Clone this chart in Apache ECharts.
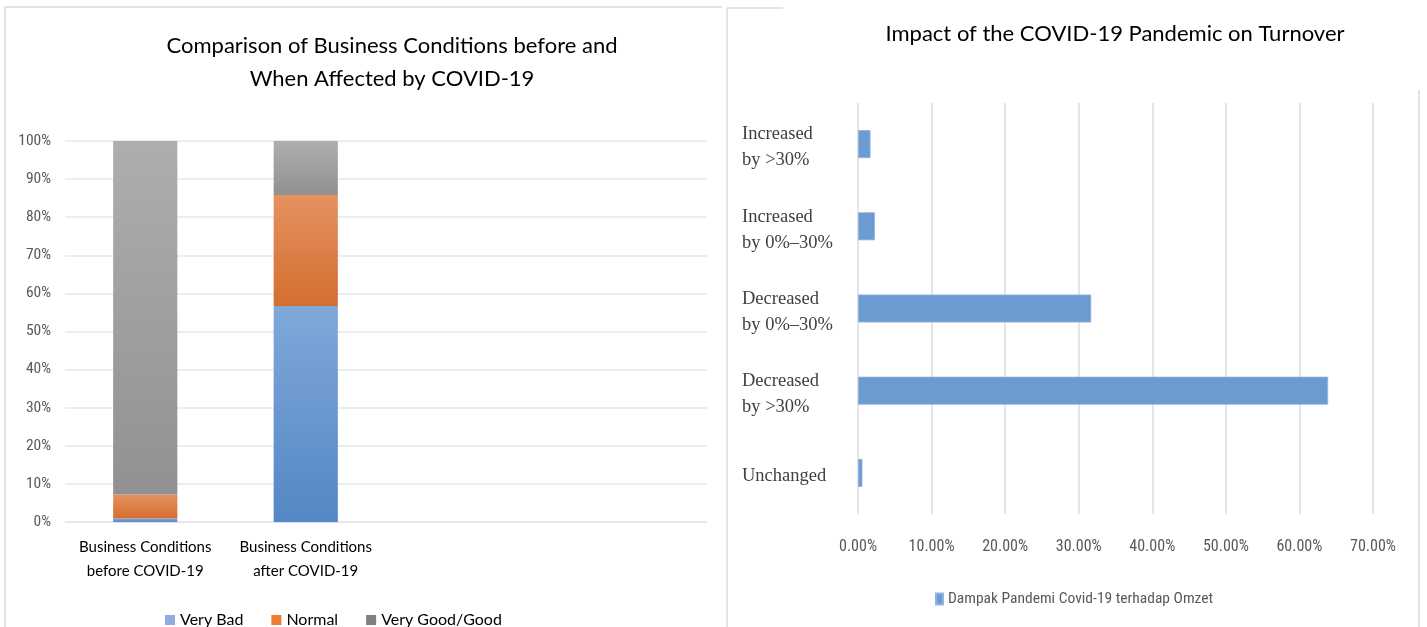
<!DOCTYPE html>
<html>
<head>
<meta charset="utf-8">
<title>COVID-19 business conditions and turnover</title>
<script src="https://cdn.jsdelivr.net/npm/echarts@6/dist/echarts.min.js"></script>
<style>
  html, body { margin: 0; padding: 0; background: #ffffff; }
  #chart { width: 1427px; height: 627px; }
</style>
</head>
<body>
<div id="chart"></div>
<script>
// Left panel: stacked shares of business conditions (percent)
const conditionCategories = ['Business Conditions\nbefore COVID-19', 'Business Conditions\nafter COVID-19'];
const veryBad = [0.9, 56.7];
const normal = [6.3, 29.1];
const veryGood = [92.8, 14.2];

// Right panel: turnover impact (percent of respondents)
const turnoverCategories = [
  'Increased\nby >30%',
  'Increased\nby 0%\u201330%',
  'Decreased\nby 0%\u201330%',
  'Decreased\nby >30%',
  'Unchanged'
];
const turnoverValues = [1.7, 2.3, 31.7, 63.9, 0.6];
const turnoverSeriesName = 'Dampak Pandemi Covid-19 terhadap Omzet';

const narrow = "'Liberation Sans Narrow', 'Roboto Condensed', 'Liberation Sans', sans-serif";

function vGrad(top, bottom) {
  return new echarts.graphic.LinearGradient(0, 0, 0, 1, [
    { offset: 0, color: top },
    { offset: 1, color: bottom }
  ]);
}

const chart = echarts.init(document.getElementById('chart'), null, { renderer: 'canvas' });

const frameStyle = { stroke: '#e4e4e4', lineWidth: 2 };

chart.setOption({
  backgroundColor: '#ffffff',
  animation: false,
  title: [
    {
      text: 'Comparison of Business Conditions before and\nWhen Affected by COVID-19',
      left: 387, top: 24, textAlign: 'center',
      textStyle: { fontFamily: 'Lato', fontSize: 22, fontWeight: 'normal', color: '#000000', lineHeight: 33 }
    },
    {
      text: 'Impact of the COVID-19 Pandemic on Turnover',
      left: 1110, top: 18, textAlign: 'center',
      textStyle: { fontFamily: 'Lato', fontSize: 22, fontWeight: 'normal', color: '#000000' }
    }
  ],
  legend: [
    {
      left: 160, top: 607,
      icon: 'rect', itemWidth: 10, itemHeight: 10, itemGap: 28, itemSpacing: 7,
      textStyle: { fontFamily: 'Lato', fontSize: 16, color: '#000000' },
      data: [
        { name: 'Very Bad', itemStyle: { color: '#8eaee0' } },
        { name: 'Normal', itemStyle: { color: '#ed7d31' } },
        { name: 'Very Good/Good', itemStyle: { color: '#808080' } }
      ]
    },
    {
      left: 930, top: 586,
      icon: 'rect', itemWidth: 7, itemHeight: 11, itemGap: 10, itemSpacing: 4,
      textStyle: { fontFamily: narrow, fontSize: 15.5, color: '#595959' },
      data: [{ name: turnoverSeriesName, itemStyle: { color: '#6b9bd0' } }]
    }
  ],
  grid: [
    { left: 65, right: 720, top: 141, bottom: 105, containLabel: false },
    { left: 858, right: 54, top: 103, bottom: 113, containLabel: false }
  ],
  xAxis: [
    {
      type: 'category', gridIndex: 0, data: conditionCategories, max: 3,
      axisLine: { show: true, lineStyle: { color: '#dfe3ea', width: 1 } },
      axisTick: { show: false },
      axisLabel: {
        margin: 13, interval: 0, fontFamily: 'Lato', fontSize: 15, color: '#000000', lineHeight: 24
      }
    },
    {
      type: 'value', gridIndex: 1, min: 0, max: 70, interval: 10,
      axisLine: { show: false }, axisTick: { show: false },
      splitLine: { show: true, lineStyle: { color: '#dcdcdc', width: 1.5 } },
      axisLabel: {
        margin: 25, fontFamily: narrow, fontSize: 16, color: '#595959',
        formatter: v => v.toFixed(2) + '%'
      }
    }
  ],
  yAxis: [
    {
      type: 'value', gridIndex: 0, min: 0, max: 100, interval: 10,
      axisLine: { show: false }, axisTick: { show: false },
      splitLine: { show: true, lineStyle: { color: '#e3e7ee', width: 1.5 } },
      axisLabel: { margin: 14, fontFamily: narrow, fontSize: 15.5, color: '#595959', formatter: '{value}%' }
    },
    {
      type: 'category', gridIndex: 1, data: turnoverCategories, inverse: true,
      axisLine: { show: false }, axisTick: { show: false }, splitLine: { show: false },
      axisLabel: {
        align: 'left', margin: 116, interval: 0,
        // a short spacer line above each label nudges the text block slightly downward
        formatter: v => '{sp| }\n' + v.split('\n').map(s => '{t|' + s + '}').join('\n'),
        rich: {
          sp: { fontSize: 4, lineHeight: 7 },
          t: {
            fontFamily: "'Liberation Serif', 'DejaVu Serif', serif", fontSize: 18.5,
            color: '#404040', lineHeight: 26
          }
        }
      }
    }
  ],
  series: [
    {
      name: 'Very Bad', type: 'bar', stack: 'cond', xAxisIndex: 0, yAxisIndex: 0,
      barWidth: '40%', data: veryBad,
      itemStyle: { color: vGrad('#80a8da', '#5487c5') }
    },
    {
      name: 'Normal', type: 'bar', stack: 'cond', xAxisIndex: 0, yAxisIndex: 0,
      barWidth: '40%', data: normal,
      itemStyle: { color: vGrad('#e4925f', '#d46e30') }
    },
    {
      name: 'Very Good/Good', type: 'bar', stack: 'cond', xAxisIndex: 0, yAxisIndex: 0,
      barWidth: '40%', data: veryGood,
      itemStyle: { color: vGrad('#aeaeae', '#919191') }
    },
    {
      name: turnoverSeriesName, type: 'bar', xAxisIndex: 1, yAxisIndex: 1,
      barWidth: 28, data: turnoverValues,
      itemStyle: { color: '#6b9bd0', borderColor: '#8fb4e0', borderWidth: 0.8 }
    }
  ],
  graphic: [
    // panel frames
    { type: 'line', silent: true, shape: { x1: 5, y1: 7, x2: 5, y2: 627 }, style: frameStyle },
    { type: 'line', silent: true, shape: { x1: 5, y1: 7, x2: 722, y2: 7 }, style: frameStyle },
    { type: 'line', silent: true, shape: { x1: 727, y1: 8, x2: 727, y2: 627 }, style: frameStyle },
    { type: 'line', silent: true, shape: { x1: 727, y1: 8, x2: 783, y2: 8 }, style: frameStyle },
    { type: 'line', silent: true, shape: { x1: 1419, y1: 90, x2: 1419, y2: 627 }, style: frameStyle }
  ]
});
</script>
</body>
</html>
